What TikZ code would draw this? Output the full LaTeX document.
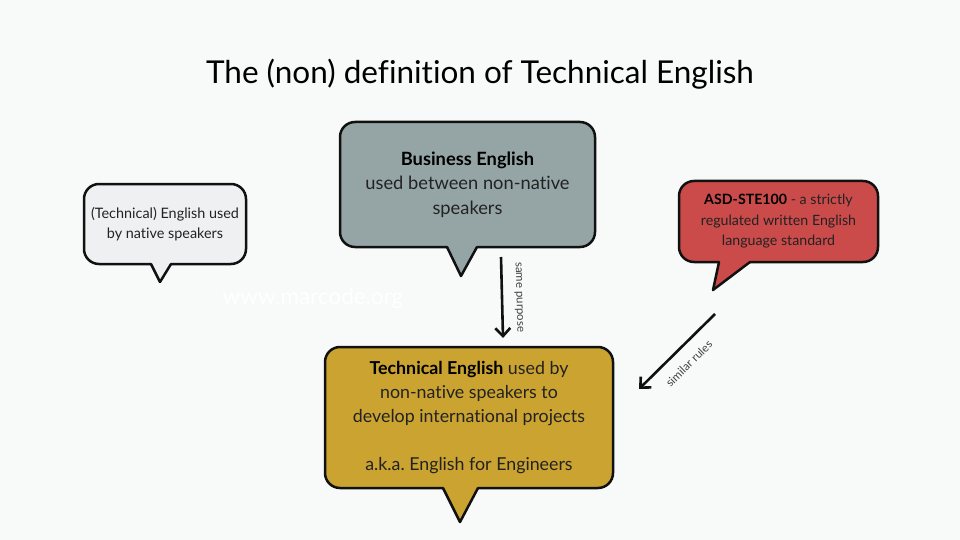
\documentclass[tikz,border=0pt]{standalone}
\usepackage{fontspec}
\setmainfont{Lato}[Ligatures=NoCommon]
\usetikzlibrary{arrows.meta, positioning}
\frenchspacing
\definecolor{bgcol}{HTML}{F8F9F9}
\definecolor{linecol}{HTML}{111111}
\definecolor{textcol}{HTML}{222222}
\definecolor{nativefill}{HTML}{EEF0F2}
\definecolor{bizfill}{HTML}{95A5A6}
\definecolor{stefill}{HTML}{CB4B4B}
\definecolor{techfill}{HTML}{CBA330}
\tikzset{
  bubble/.style={draw=linecol, line width=2.5pt, rounded corners=15pt, align=center,
    outer sep=0pt, inner sep=0pt, text=textcol},
  tailline/.style={draw=linecol, line width=2.5pt, line join=round, line cap=round},
  link/.style={line width=2.6pt, draw=linecol,
    -{Straight Barb[length=8pt,width=15pt,line width=2.6pt]}},
  linklabel/.style={font=\fontsize{11.5}{13}\selectfont, text=textcol!85}
}

\begin{document}
\begin{tikzpicture}[x=1pt, y=-1pt, sloped]
    \fill[bgcol] (0,0) rectangle (960,540);
    \useasboundingbox (0,0) rectangle (960,540);

    \node[font=\fontsize{31.5}{36}\selectfont] (title) at (480,74) {The (non) definition of Technical English};
    \node[text=white, font=\fontsize{22.5}{26}\selectfont] (mark) at (313,298) {www.marcode.org};

    % speech bubbles
    \node[bubble, fill=nativefill, minimum width=162pt, minimum height=80pt,
      font=\fontsize{14.4}{20}\selectfont] (native) at (165,224)
      {(Technical) English used\\by native speakers};
    \node[bubble, fill=bizfill, minimum width=255pt, minimum height=125pt,
      font=\fontsize{18.3}{24.5}\selectfont] (biz) at (467.5,184.5)
      {\textcolor{black}{\textbf{Business English}}\\used between non-native\\speakers};
    \node[bubble, fill=stefill, minimum width=199pt, minimum height=81pt,
      font=\fontsize{14.2}{20.5}\selectfont] (ste) at (778.5,221.5)
      {\textcolor{black}{\textbf{ASD-STE100}} - a strictly\\regulated written English\\language standard};
    \node[bubble, fill=techfill, minimum width=288pt, minimum height=141pt,
      font=\fontsize{17.8}{24}\selectfont] (tech) at (469,417.5)
      {\textcolor{black}{\textbf{Technical English}} used by\\non-native speakers to\\develop international projects\\[24pt]a.k.a. English for Engineers};

    % tails
    \fill[nativefill] ([xshift=-14pt,yshift=2pt]native.south) -- ([xshift=6pt,yshift=2pt]native.south)
      -- ([xshift=6pt]native.south) -- ([xshift=-5pt,yshift=-18pt]native.south) -- ([xshift=-14pt]native.south) -- cycle;
    \draw[tailline] ([xshift=-14pt]native.south) -- ([xshift=-5pt,yshift=-18pt]native.south) -- ([xshift=6pt]native.south);

    \fill[bizfill] ([xshift=-20.5pt,yshift=2pt]biz.south) -- ([xshift=9.5pt,yshift=2pt]biz.south)
      -- ([xshift=9.5pt]biz.south) -- ([xshift=-6.5pt,yshift=-29pt]biz.south) -- ([xshift=-20.5pt]biz.south) -- cycle;
    \draw[tailline] ([xshift=-20.5pt]biz.south) -- ([xshift=-6.5pt,yshift=-29pt]biz.south) -- ([xshift=9.5pt]biz.south);

    \fill[stefill] ([xshift=-59.5pt,yshift=2pt]ste.south) -- ([xshift=-28.5pt,yshift=2pt]ste.south)
      -- ([xshift=-28.5pt]ste.south) -- ([xshift=-65.5pt,yshift=-28pt]ste.south) -- ([xshift=-59.5pt]ste.south) -- cycle;
    \draw[tailline] ([xshift=-59.5pt]ste.south) -- ([xshift=-65.5pt,yshift=-28pt]ste.south) -- ([xshift=-28.5pt]ste.south);

    \fill[techfill] ([xshift=-26pt,yshift=2pt]tech.south) -- ([xshift=9pt,yshift=2pt]tech.south)
      -- ([xshift=9pt]tech.south) -- ([xshift=-9pt,yshift=-34pt]tech.south) -- ([xshift=-26pt]tech.south) -- cycle;
    \draw[tailline] ([xshift=-26pt]tech.south) -- ([xshift=-9pt,yshift=-34pt]tech.south) -- ([xshift=9pt]tech.south);

    % arrows
    \coordinate (purposefrom) at (501,257);
    \coordinate (purposeto) at (503,338);
    \coordinate (rulesfrom) at (715,314);
    \coordinate (rulesto) at (639,389);
    \draw[link] (purposefrom) -- (purposeto) node [midway, above=8pt, linklabel] {same purpose};
    \draw[link] (rulesfrom) -- (rulesto) node [midway, below=8pt, linklabel] {similar rules};
\end{tikzpicture}
\end{document}
